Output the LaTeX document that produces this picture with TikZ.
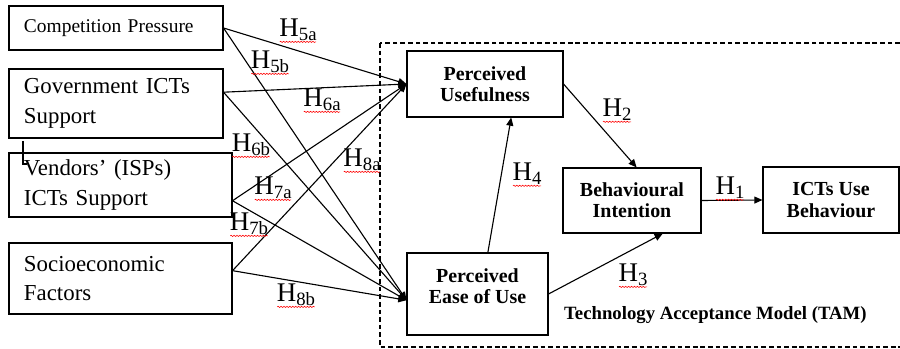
\documentclass[tikz,border=0pt]{standalone}
\usepackage{fontspec}
\setmainfont{Liberation Serif}
\usetikzlibrary{arrows.meta,decorations.pathmorphing}
\newcommand{\hname}[1]{H\raisebox{-0.35ex}{\fontsize{16}{16}\selectfont #1}}

\begin{document}
\begin{tikzpicture}[x=0.03cm,y=-0.03cm,>={Triangle[length=7pt,width=6pt]},
box/.style={draw,line width=0.9pt,inner sep=0pt},
ext/.style={box,align=left,inner xsep=0.45cm,font=\fontsize{19.5}{25}\selectfont},
tam/.style={box,align=center,font=\bfseries\fontsize{17}{18}\selectfont},
link/.style={->,line width=0.95pt},
squig/.style={draw=red,line width=0.5pt,decorate,decoration={snake,amplitude=0.5pt,segment length=2.5pt}},
hlabel/.style={inner sep=0.5pt,font=\fontsize{23}{24}\selectfont,append after command={([xshift=1pt]\tikzlastnode.south west) edge[squig] ([xshift=-1pt]\tikzlastnode.south east)}}]
\useasboundingbox (0,0) rectangle (900,349);
\draw[dash pattern=on 4pt off 2.5pt,line width=1pt] (380,43) rectangle (930,347);

\node[ext,text width=5.52cm,minimum height=1.32cm,font=\fontsize{16.6}{20}\selectfont] (cp) at (116,28) {Competition Pressure};
\node[ext,text width=5.52cm,minimum height=2.07cm] (gov) at (116,103.5) {Government ICTs\\Support};
\node[ext,text width=5.79cm,minimum height=1.92cm] (vend) at (120.5,185) {Vendors' (ISPs)\\ICTs Support};
\node[ext,text width=5.79cm,minimum height=2.13cm] (soc) at (120.5,278.5) {Socioeconomic\\Factors};
\draw[line width=1.2pt] (23,141) -- (23,164) -- (27,164);

\node[tam,minimum width=4.68cm,minimum height=1.98cm] (pu) at (485,84) {Perceived\\Usefulness};
\node[tam,minimum width=4.23cm,minimum height=2.46cm,text depth=0.5cm] (peou) at (477.5,294) {Perceived\\Ease of Use};
\node[tam,minimum width=4.14cm,minimum height=1.95cm] (bi) at (632,200.5) {Behavioural\\Intention};
\node[tam,minimum width=4.08cm,minimum height=1.98cm] (icts) at (831,200) {ICTs Use\\Behaviour};
\node[anchor=base west,font=\bfseries\fontsize{16}{19}\selectfont] (tamlab) at (560,320) {Technology Acceptance Model (TAM)};

\foreach \s/\a in {cp/east,gov/6,vend/-8,soc/4}{
  \draw[link] (\s.\a) -- (pu.west);
  \draw[link] (\s.\a) -- (peou.185);
}
\draw[link] (pu.east) -- (bi.82);
\draw[link] (peou.76) -- (pu.-52);
\draw[link] (peou.east) -- (bi.-47);
\draw[link] (bi.east) -- (icts.west);

\node[hlabel] (h5a) at (298,30) {\hname{5a}};
\node[hlabel] (h5b) at (270,62) {\hname{5b}};
\node[hlabel] (h6a) at (322,100) {\hname{6a}};
\node[hlabel] (h6b) at (251,145) {\hname{6b}};
\node[hlabel] (h7a) at (273,188) {\hname{7a}};
\node[hlabel] (h7b) at (249,224) {\hname{7b}};
\node[hlabel] (h8a) at (362,160) {\hname{8a}};
\node[hlabel] (h8b) at (296,295) {\hname{8b}};
\node[hlabel] (h2) at (617,110) {\hname{2}};
\node[hlabel] (h4) at (527,174) {\hname{4}};
\node[hlabel] (h1) at (730,188) {\hname{1}};
\node[hlabel] (h3) at (633,275) {\hname{3}};
\end{tikzpicture}
\end{document}
